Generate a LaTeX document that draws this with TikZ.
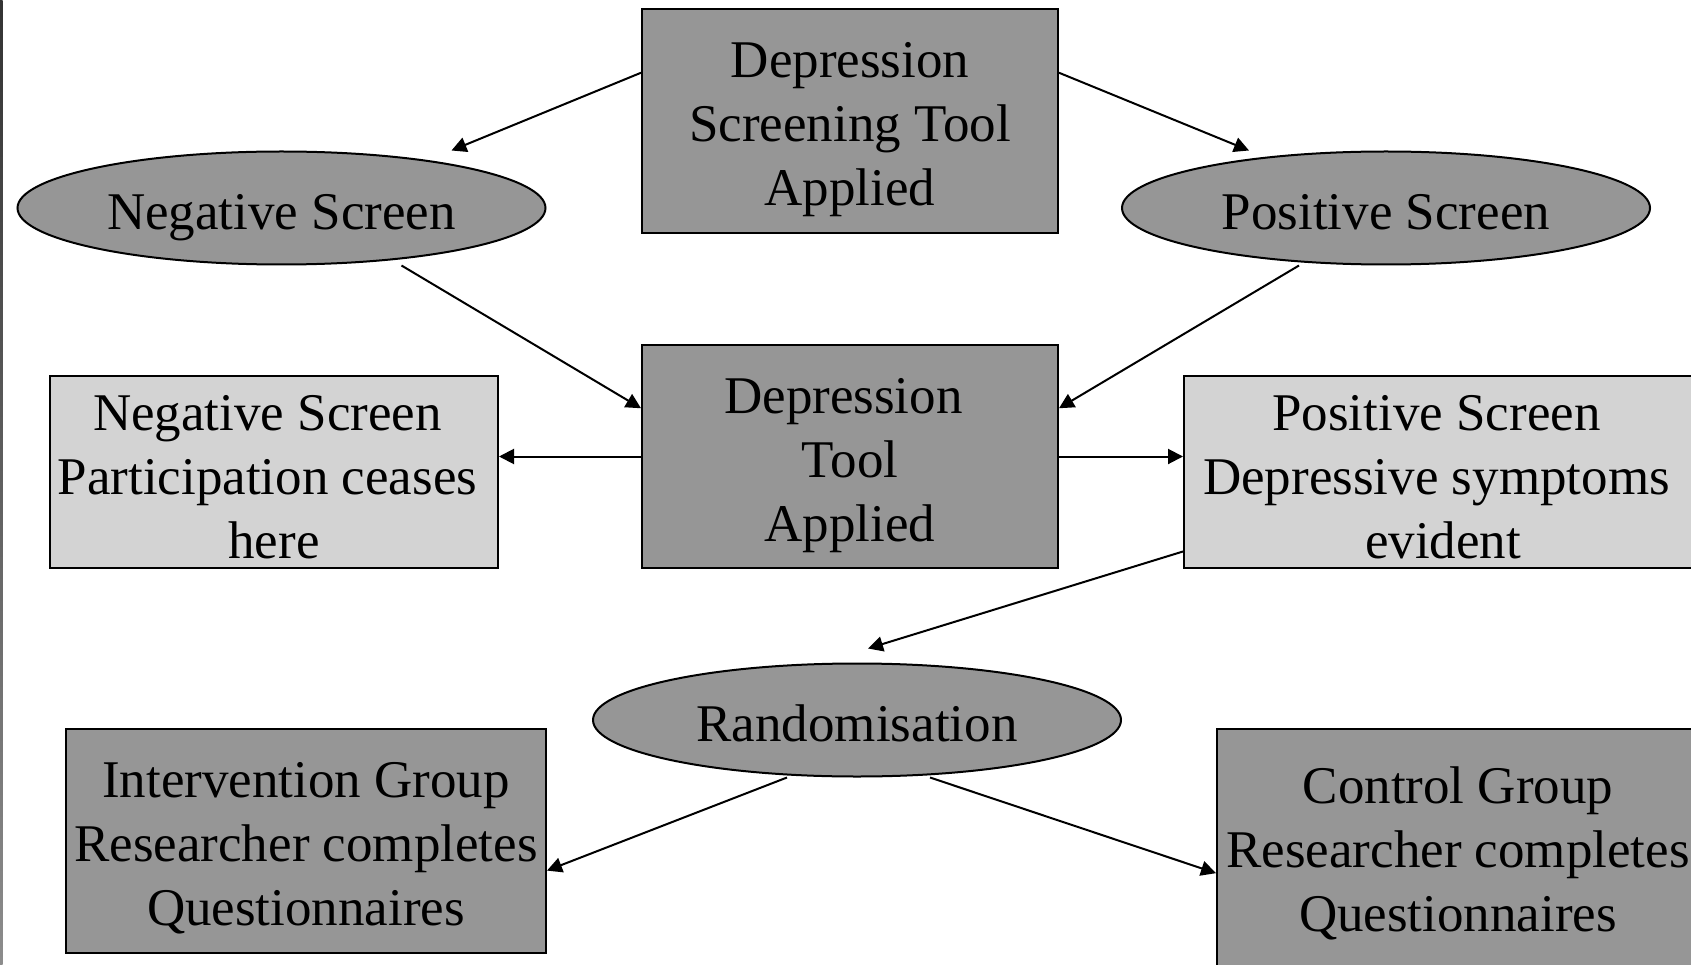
\documentclass[tikz,border=0pt]{standalone}
\usepackage{fontspec}
\setmainfont{Liberation Serif}
\usetikzlibrary{shapes.geometric,arrows.meta,calc}

\definecolor{darkfill}{RGB}{150,150,150}
\definecolor{lightfill}{RGB}{211,211,211}

% extra room above the first line, and a kept trailing space
\newcommand{\uplift}[1]{\rule{0pt}{#1pt}}
\newcommand{\tsp}{\hbox to 13pt{}}

\tikzset{
	box/.style={rectangle, draw, line width=2pt, fill=darkfill, inner sep=0pt, align=center, font=\fontsize{53}{64}\selectfont},
	lightbox/.style={box, fill=lightfill},
	oval/.style={ellipse, draw, line width=2pt, fill=darkfill, inner sep=0pt, minimum width=528pt, minimum height=113pt, text height=42.4pt, text depth=0pt, font=\fontsize{53}{64}\selectfont},
	flow/.style={-{Triangle[length=15pt,width=15pt]}, line width=2pt},
}

\begin{document}
\begin{tikzpicture}[x=1pt,y=-1pt]

	\useasboundingbox (0,0) rectangle (1691,965);
	\clip (0,0) rectangle (1691,965);

	% left border
	\shade[top color=black!80, bottom color=black!45] (0,0) rectangle (2.5,965);

	\node 	(scr)		at	(850,121) 	[box, minimum width=416pt, minimum height=224pt]{\uplift{53}Depression\\Screening Tool\\Applied};

	\node 	(negell)	at	(281.5,208) 	[oval]{Negative Screen};

	\node 	(posell)	at	(1386,208) 	[oval]{Positive Screen};


	\node 	(tool)		at	(850,456.5) 	[box, minimum width=416pt, minimum height=223pt]{\uplift{53}Depression\tsp\\Tool\\Applied};

	\node 	(negbox)	at	(274,472) 	[lightbox, minimum width=448pt, minimum height=192pt]{\uplift{45}Negative Screen\tsp\\Participation ceases\tsp\\here};

	\node 	(posbox)	at	(1443,472) 	[lightbox, minimum width=518pt, minimum height=192pt]{\uplift{45}Positive Screen\tsp\\Depressive symptoms\tsp\\evident};


	\node 	(rand)		at	(857,720) 	[oval]{Randomisation};

	\node 	(intbox)	at	(306,841) 	[box, minimum width=480pt, minimum height=224pt]{\uplift{49}Intervention Group\\Researcher completes\\Questionnaires};

	\node 	(ctlbox)	at	(1458,852) 	[box, minimum width=482pt, minimum height=246pt]{\uplift{40.5}Control Group\\Researcher completes\\Questionnaires};

	\draw[flow]	(scr.167)	--	($(negell.north)+(170,0)$);
	\draw[flow]	(scr.13)	--	($(posell.north)+(-137,0)$);
	\draw[flow]	($(negell.south)+(120,0)$)	--	(tool.167);
	\draw[flow]	($(posell.south)+(-87,0)$)	--	(tool.13);
	\draw[flow]	(tool.west)	--	(tool.west -| negbox.east);
	\draw[flow]	(tool.east)	--	(tool.east -| posbox.west);
	\draw[flow]	(posbox.197.5)	--	($(rand.north)+(11,-14)$);
	\draw[flow]	($(rand.south)+(-70,0)$)	--	(intbox.-7);
	\draw[flow]	($(rand.south)+(73,0)$)	--	(ctlbox.185);

\end{tikzpicture}
\end{document}
